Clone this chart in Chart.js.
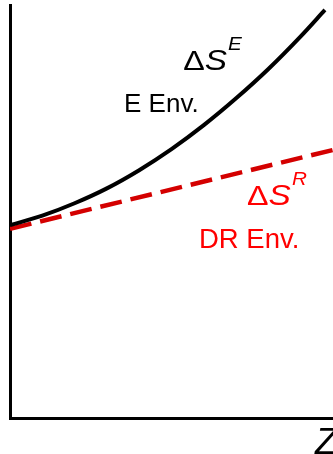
<!DOCTYPE html>
<html>
<head>
<meta charset="utf-8">
<script src="https://cdn.jsdelivr.net/npm/chart.js@4/dist/chart.umd.min.js"></script>
<style>
  html, body { margin: 0; padding: 0; background: #fff; }
  #wrap { width: 333px; height: 454px; }
</style>
</head>
<body>
<div id="wrap"><canvas id="entropy_chart"></canvas></div>
<script>
const zValues = [0, 1, 2, 3, 4, 5, 6, 7, 8, 9, 9.75];
const deltaSE = [46.7, 49.0, 52.0, 55.6, 60.0, 65.1, 70.9, 77.4, 84.5, 92.4, 98.8];
const zRed = [0, 10];
const deltaSR = [45.8, 64.9];

// label anchors in data units (left, baseline)
const labels = [
    { main: 'ΔS', sup: 'E', x: 5.36, y: 84.3, color: '#000' },
    { text: 'E Env.', x: 3.53, y: 74.1, color: '#000', size: 26 },
    { main: 'ΔS', sup: 'R', x: 7.34, y: 51.6, color: '#ff0000' },
    { text: 'DR Env.', x: 5.85, y: 41.2, color: '#ff0000', size: 27.5 }
];

const toPoints = (xs, ys) => xs.map((x, i) => ({ x: x, y: ys[i] }));

const labelPlugin = {
    id: 'labelPlugin',
    afterDraw(chart) {
        const c = chart.ctx;
        const sx = chart.scales.x, sy = chart.scales.y;
        const fam = '"Liberation Sans", Arial, sans-serif';
        c.save();
        c.textBaseline = 'alphabetic';
        c.textAlign = 'left';
        labels.forEach(l => {
            const px = sx.getPixelForValue(l.x);
            const py = sy.getPixelForValue(l.y);
            c.fillStyle = l.color;
            if (l.text) {
                c.font = l.size + 'px ' + fam;
                c.fillText(l.text, px, py);
                return;
            }
            // the delta-S symbols look a bit wider than the plain text
            c.save();
            c.translate(px, py);
            c.scale(1.15, 1);
            let x = 0;
            c.font = '28px ' + fam;
            c.fillText('Δ', x, 0);
            x += c.measureText('Δ').width;
            c.font = 'italic 29px ' + fam;
            c.fillText('S', x, 0);
            x += c.measureText('S').width + 1;
            c.font = 'italic 18px ' + fam;
            c.fillText(l.sup, x, -20);
            c.restore();
        });
        // axis name
        c.fillStyle = '#000';
        c.font = 'italic 36px ' + fam;
        c.fillText('Z', chart.chartArea.right - 18, chart.height);
        c.restore();
    }
};

new Chart(document.querySelector('#entropy_chart'), {
    type: 'line',
    data: {
        datasets: [
            {
                data: toPoints(zValues, deltaSE),
                borderColor: '#000',
                borderWidth: 4,
                pointRadius: 0,
                cubicInterpolationMode: 'monotone',
                fill: false
            },
            {
                data: toPoints(zRed, deltaSR),
                borderColor: '#d40000',
                borderWidth: 4.5,
                borderDash: [22, 9],
                pointRadius: 0,
                fill: false
            }
        ]
    },
    options: {
        responsive: true,
        maintainAspectRatio: false,
        animation: false,
        layout: { padding: { left: 10, top: 5, right: 0, bottom: 36 } },
        plugins: { legend: false, tooltip: { enabled: false } },
        scales: {
            x: {
                type: 'linear',
                min: 0,
                max: 10,
                grid: { display: false, drawTicks: false },
                ticks: { display: false },
                border: { display: true, color: '#000', width: 3 }
            },
            y: {
                min: 0,
                max: 100,
                grid: { display: false, drawTicks: false },
                ticks: { display: false },
                border: { display: true, color: '#000', width: 3 }
            }
        }
    },
    plugins: [labelPlugin]
});
</script>
</body>
</html>
